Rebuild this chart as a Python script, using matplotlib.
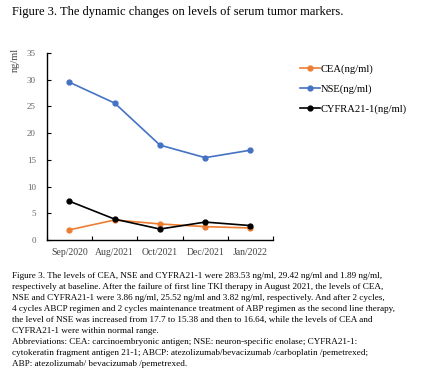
import numpy as np
import matplotlib
matplotlib.use('Agg')
import matplotlib.pyplot as plt

# data
dates = ['Sep/2020', 'Aug/2021', 'Oct/2021', 'Dec/2021', 'Jan/2022']
cea = [1.9, 3.75, 3.0, 2.5, 2.25]
nse = [29.5, 25.6, 17.75, 15.4, 16.8]
cyfra = [7.25, 3.9, 2.05, 3.35, 2.7]
yticks = [0, 5, 10, 15, 20, 25, 30, 35]

title = 'Figure 3. The dynamic changes on levels of serum tumor markers.'
caption = ('Figure 3. The levels of CEA, NSE and CYFRA21-1 were 283.53 ng/ml, 29.42 ng/ml and 1.89 ng/ml,\n'
           'respectively at baseline. After the failure of first line TKI therapy in August 2021, the levels of CEA,\n'
           'NSE and CYFRA21-1 were 3.86 ng/ml, 25.52 ng/ml and 3.82 ng/ml, respectively. And after 2 cycles,\n'
           '4 cycles ABCP regimen and 2 cycles maintenance treatment of ABP regimen as the second line therapy,\n'
           'the level of NSE was increased from 17.7 to 15.38 and then to 16.64, while the levels of CEA and\n'
           'CYFRA21-1 were within normal range.\n'
           'Abbreviations: CEA: carcinoembryonic antigen; NSE: neuron-specific enolase; CYFRA21-1:\n'
           'cytokeratin fragment antigen 21-1; ABCP: atezolizumab/bevacizumab /carboplatin /pemetrexed;\n'
           'ABP: atezolizumab/ bevacizumab /pemetrexed.')

plt.rcParams['font.family'] = ['Liberation Serif', 'DejaVu Serif']

fig = plt.figure(figsize=(4.26, 3.75), dpi=100)
ax = fig.add_axes([0.110, 0.36, 0.531, 0.499])

x = np.arange(len(dates))
ax.plot(x, cea, color='#ED7D31', marker='o', ms=3.5, lw=1.2, label='CEA(ng/ml)')
ax.plot(x, nse, color='#4472C4', marker='o', ms=3.5, lw=1.2, label='NSE(ng/ml)')
ax.plot(x, cyfra, color='black', marker='o', ms=3.5, lw=1.2, label='CYFRA21-1(ng/ml)')

ax.set_xlim(-0.5, len(dates) - 0.5)
ax.set_ylim(0, 35)
ax.set_yticks(yticks)
ax.set_xticks(x)
ax.set_xticklabels(dates)
ax.set_xticks(np.arange(len(dates) + 1) - 0.5, minor=True)
ax.tick_params(axis='x', which='major', length=0, labelsize=7, labelcolor='#444444', pad=6)
ax.tick_params(axis='x', which='minor', direction='in', length=3, width=0.8)
ax.tick_params(axis='y', direction='in', length=3, width=0.8, labelsize=6.5, labelcolor='#666666', pad=8)
for s in ['top', 'right']:
    ax.spines[s].set_visible(False)
for s in ['left', 'bottom']:
    ax.spines[s].set_linewidth(1.0)

fig.text(0.025, 0.84, 'ng/ml', rotation=90, fontsize=7.5, color='#444444', va='center')

ax.legend(loc='upper left', bbox_to_anchor=(1.1, 0.96), frameon=False, fontsize=7.6,
          handlelength=1.9, handletextpad=0.1, labelspacing=0.95, borderaxespad=0)

fig.text(0.028, 0.968, title, fontsize=9, va='center')
fig.text(0.028, 0.275, caption, fontsize=6.6, va='top', linespacing=1.5)

fig.savefig('out.png', dpi=100)
